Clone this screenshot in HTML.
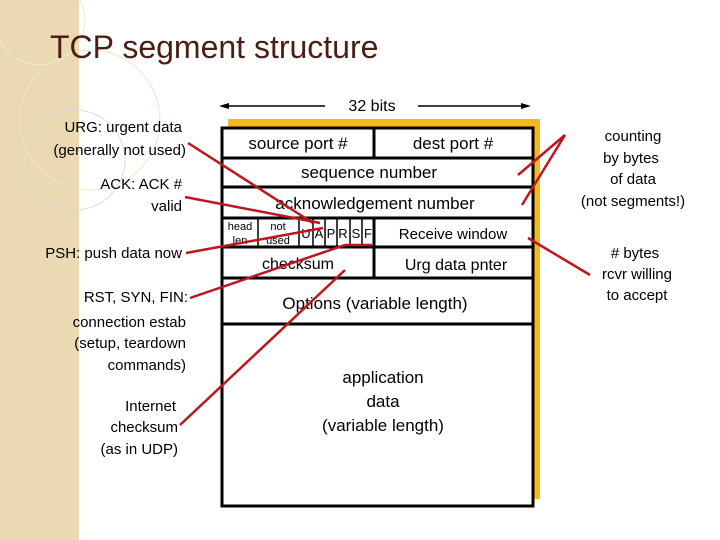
<!DOCTYPE html>
<html><head><meta charset="utf-8"><style>
html,body{margin:0;padding:0;background:#fff;}
svg{display:block;font-family:"Liberation Sans","DejaVu Sans",sans-serif;}
</style></head><body>
<svg width="720" height="540" viewBox="0 0 720 540" xmlns="http://www.w3.org/2000/svg">
<rect x="0" y="0" width="79" height="540" fill="#ead9b2"/>
<circle cx="40" cy="20" r="45" fill="none" stroke="#f4ead2" stroke-width="1"/>
<circle cx="90" cy="120" r="70" fill="none" stroke="#f1e5c9" stroke-width="1"/>
<circle cx="75" cy="160" r="50" fill="none" stroke="#ddd" stroke-width="1"/>
<text x="50" y="58" font-size="32" fill="#4a1e14">TCP segment structure</text>

<line x1="222" y1="106" x2="325" y2="106" stroke="#000" stroke-width="1.5"/>
<line x1="418" y1="106" x2="528" y2="106" stroke="#000" stroke-width="1.5"/>
<polygon points="219,106 229,103 229,109" fill="#000"/>
<polygon points="531,106 521,103 521,109" fill="#000"/>
<text x="372" y="111" font-size="16" text-anchor="middle">32 bits</text>

<rect x="228" y="119" width="312" height="380" fill="#f6b820"/>
<rect x="222" y="128" width="311" height="378" fill="#fff" stroke="#000" stroke-width="3"/>
<g stroke="#000" stroke-width="3">
<line x1="222" y1="158" x2="533" y2="158"/>
<line x1="222" y1="187" x2="533" y2="187"/>
<line x1="222" y1="218" x2="533" y2="218"/>
<line x1="222" y1="247" x2="533" y2="247"/>
<line x1="222" y1="278" x2="533" y2="278"/>
<line x1="222" y1="324" x2="533" y2="324"/>
<line x1="374" y1="128" x2="374" y2="158"/>
<line x1="374" y1="218" x2="374" y2="278"/>
</g>
<g stroke="#000" stroke-width="1.5">
<line x1="258" y1="218" x2="258" y2="247"/>
<line x1="299" y1="218" x2="299" y2="247"/>
<line x1="313" y1="218" x2="313" y2="247"/>
<line x1="325" y1="218" x2="325" y2="247"/>
<line x1="337" y1="218" x2="337" y2="247"/>
<line x1="350" y1="218" x2="350" y2="247"/>
<line x1="362" y1="218" x2="362" y2="247"/>
</g>
<g font-size="17" text-anchor="middle">
<text x="298" y="149">source port #</text>
<text x="453" y="149">dest port #</text>
<text x="369" y="178">sequence number</text>
<text x="375" y="209">acknowledgement number</text>
<text x="453" y="239" font-size="15">Receive window</text>
<text x="298" y="269" font-size="16">checksum</text>
<text x="456" y="270" font-size="16">Urg data pnter</text>
<text x="375" y="309">Options (variable length)</text>
<text x="383" y="383">application</text>
<text x="383" y="407">data</text>
<text x="383" y="431">(variable length)</text>
</g>
<g font-size="11" text-anchor="middle">
<text x="240" y="230">head</text><text x="240" y="244">len</text>
<text x="278" y="230">not</text><text x="278" y="244">used</text>
</g>
<g font-size="13" text-anchor="middle">
<text x="306" y="238">U</text><text x="319" y="238">A</text><text x="331" y="238">P</text>
<text x="343" y="238">R</text><text x="356" y="238">S</text><text x="368" y="238">F</text>
</g>

<g font-size="15" text-anchor="end" fill="#000">
<text x="182" y="132">URG: urgent data</text>
<text x="186" y="155">(generally not used)</text>
<text x="182" y="189">ACK: ACK #</text>
<text x="182" y="211">valid</text>
<text x="182" y="258">PSH: push data now</text>
<text x="188" y="302">RST, SYN, FIN:</text>
<text x="186" y="327">connection estab</text>
<text x="186" y="348">(setup, teardown</text>
<text x="186" y="370">commands)</text>
<text x="176" y="411">Internet</text>
<text x="178" y="432">checksum</text>
<text x="178" y="454">(as in UDP)</text>
</g>
<g font-size="15" text-anchor="middle">
<text x="633" y="141">counting</text>
<text x="631" y="163">by bytes</text>
<text x="633" y="184">of data</text>
<text x="633" y="206">(not segments!)</text>
<text x="635" y="258"># bytes</text>
<text x="637" y="279">rcvr willing</text>
<text x="637" y="300">to accept</text>
</g>

<g stroke="#c0151d" stroke-width="2.5" fill="none">
<line x1="188" y1="143" x2="313" y2="223"/>
<line x1="185" y1="197" x2="320" y2="223"/>
<line x1="186" y1="253" x2="323" y2="228"/>
<polyline points="190,298 345,245 372,245"/>
<line x1="180" y1="425" x2="345" y2="270"/>
<line x1="565" y1="135" x2="518" y2="175"/>
<line x1="565" y1="135" x2="522" y2="205"/>
<line x1="590" y1="275" x2="528" y2="238"/>
</g>
</svg>
</body></html>
